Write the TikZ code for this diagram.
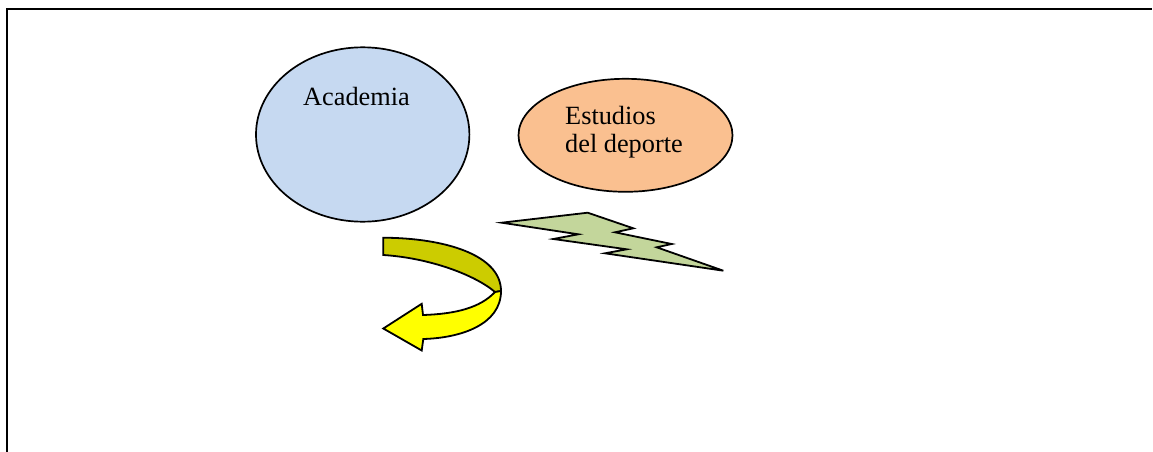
\documentclass[tikz,border=0pt]{standalone}
\usepackage{fontspec}
\setmainfont{Liberation Serif}
\usetikzlibrary{shapes.geometric}
\definecolor{acadblue}{HTML}{C6D9F1}
\definecolor{sportorange}{HTML}{FAC090}
\definecolor{boltgreen}{HTML}{C3D69B}
\definecolor{darkyellow}{HTML}{CCCC00}
\definecolor{brightyellow}{HTML}{FFFF00}
\tikzset{
  bubble/.style={ellipse, draw=black, line width=1.7pt, inner sep=0pt},
  label/.style={anchor=base west, inner sep=0pt, font=\fontsize{26.3}{28}\selectfont, align=left},
  shapeline/.style={draw=black, line width=1.8pt, line join=miter},
  frameline/.style={draw=black, line width=1.8pt}
}
\begin{document}
\begin{tikzpicture}[x=1pt,y=-1pt]
\useasboundingbox (0,0) rectangle (1153,452);
% frame
\coordinate (fbl) at (6.7,452);
\coordinate (ftl) at (6.7,9.3);
\coordinate (ftr) at (1152,9.3);
\draw[frameline] (fbl) -- (ftl) -- (ftr);
% ellipses
\node[bubble, fill=acadblue, minimum width=213.4pt, minimum height=174.4pt] (acad) at (362.7,134.5) {};
\node[bubble, fill=sportorange, minimum width=214pt, minimum height=113pt] (sport) at (625.5,135.3) {};
\node[label] (acadtext) at (303,105.7) {Academia};
\node[label] (sporttext1) at (565,124.3) {Estudios};
\node[label] (sporttext2) at (565,152.3) {del deporte};
% lightning bolt
\draw[shapeline, fill=boltgreen] (501.7,222.7) -- (587.7,212.7) -- (633.3,228.3) -- (615,232.3)
  -- (671.7,244) -- (656.7,247.3) -- (723.3,270.7) -- (605,253.3) -- (626.7,249.3)
  -- (553.3,239) -- (578.3,234.3) -- cycle;
% curved arrow, back (dark) part
\draw[shapeline, fill=darkyellow] (383.3,237.7) .. controls (445,238) and (501,255) .. (501,291)
  -- (495,292) .. controls (475,275) and (430,258) .. (383.3,255) -- cycle;
% curved arrow, front (bright) part with head
\draw[shapeline, fill=brightyellow] (495,292) -- (501,291) .. controls (501,325) and (460,338) .. (423.3,339)
  -- (421.7,350.5) -- (383.3,328.5) -- (421.7,303.8) -- (423,315)
  .. controls (455,314) and (480,308) .. (495,292) -- cycle;
\end{tikzpicture}
\end{document}
